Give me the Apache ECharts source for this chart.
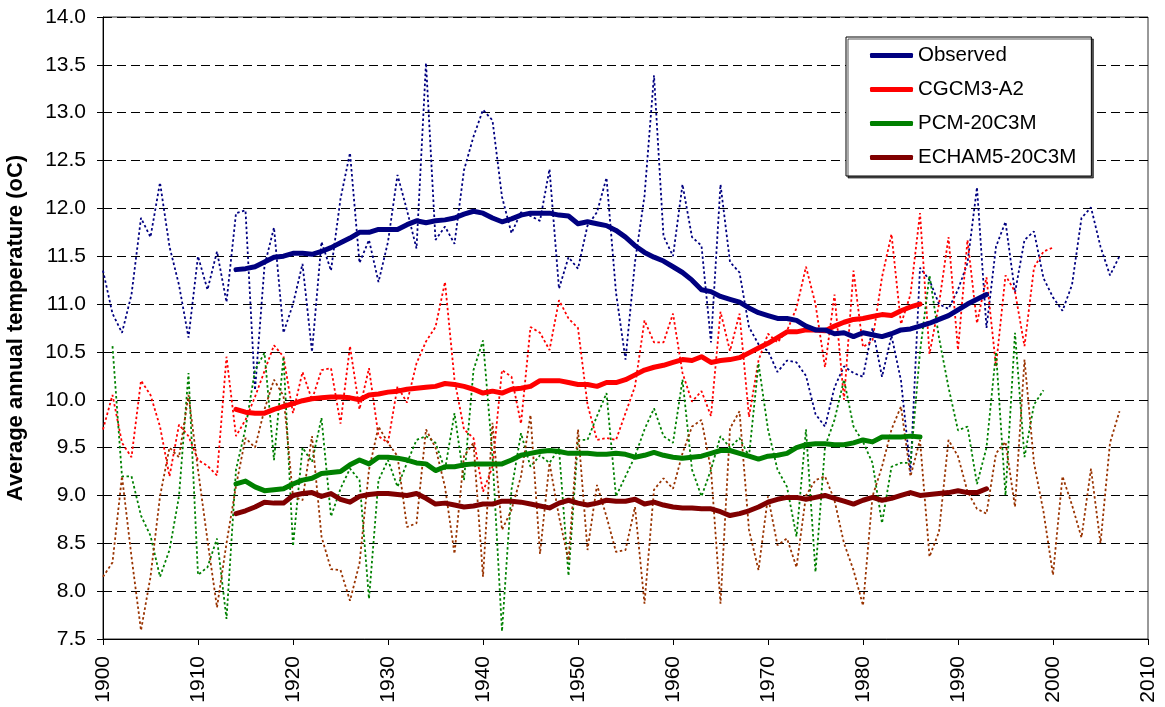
<!DOCTYPE html>
<html>
<head>
<meta charset="utf-8">
<title>Average annual temperature</title>
<script src="https://cdn.jsdelivr.net/npm/echarts@6/dist/echarts.min.js"></script>
<style>
html, body { margin: 0; padding: 0; background: #fff; }
#chart { width: 1165px; height: 707px; }
</style>
</head>
<body>
<div id="chart"></div>
<script>
"use strict";
// yearly values (dotted lines)
var observedStart = 1900;
var observed = [
    11.35, 10.9, 10.7, 11.1, 11.9, 11.7, 12.27, 11.6, 11.2, 10.65,
    11.5, 11.15, 11.55, 11.02, 11.95, 11.98, 10.1, 11.4, 11.8, 10.7,
    11.0, 11.42, 10.5, 11.65, 11.35, 12.1, 12.58, 11.43, 11.67, 11.23,
    11.65, 12.35, 11.98, 11.58, 13.52, 11.67, 11.81, 11.63, 12.4, 12.75,
    13.03, 12.92, 12.12, 11.74, 11.96, 11.92, 11.87, 12.41, 11.16, 11.49,
    11.37, 11.82, 11.96, 12.32, 11.12, 10.42, 11.44, 12.13, 13.39, 11.71,
    11.5, 12.25, 11.7, 11.61, 10.6, 12.25, 11.44, 11.33, 10.76, 10.58,
    10.51, 10.29, 10.41, 10.39, 10.25, 9.85, 9.72, 10.13, 10.35, 10.28,
    10.24, 10.75, 10.24, 10.67, 10.2, 9.25, 11.38, 11.25, 11.0, 10.95,
    11.15, 11.43, 12.22, 10.75, 11.6, 11.86, 11.12, 11.67, 11.76, 11.27,
    11.07, 10.93, 11.2, 11.9, 12.01, 11.6, 11.3, 11.5
];
var cgcmStart = 1900;
var cgcm = [
    9.69, 10.05, 9.55, 9.4, 10.2, 10.05, 9.72, 9.2, 9.74, 9.62,
    9.37, 9.31, 9.21, 10.45, 9.62, 9.79, 10.03, 10.3, 10.57, 10.45,
    9.86, 10.29, 10.0, 10.31, 10.33, 9.75, 10.56, 9.9, 10.33, 9.62,
    9.55, 10.14, 9.97, 10.38, 10.61, 10.76, 11.23, 10.21, 9.69, 9.6,
    9.04, 9.3, 10.31, 10.24, 9.75, 10.76, 10.7, 10.52, 11.04, 10.85,
    10.75, 9.95, 9.58, 9.6, 9.58, 9.86, 10.14, 10.83, 10.6, 10.6,
    10.9, 10.28, 9.98, 10.09, 9.83, 10.92, 10.51, 10.9, 9.82, 10.41,
    10.69, 10.6, 10.72, 10.96, 11.39, 11.0, 10.34, 11.1, 10.0, 11.35,
    10.55, 10.62, 11.28, 11.73, 10.79, 11.1, 11.95, 10.48, 11.0, 11.7,
    10.52, 11.67, 10.8, 11.28, 10.35, 11.3, 11.13, 10.56, 11.38, 11.55,
    11.59
];
var pcmStart = 1901;
var pcm = [
    10.56, 9.2, 9.2, 8.79, 8.58, 8.15, 8.43, 8.99, 10.28,
    8.17, 8.25, 8.55, 7.71, 9.27, 9.7, 10.31, 10.49, 9.37, 10.45,
    8.47, 9.5, 9.35, 9.81, 8.78, 9.07, 9.28, 9.16, 7.92, 9.16,
    9.37, 9.09, 9.34, 9.58, 9.62, 9.55, 9.27, 9.86, 9.16, 10.31,
    10.62, 9.41, 7.58, 9.06, 9.65, 9.3, 9.42, 9.34, 9.49, 8.16,
    9.58, 9.58, 9.83, 10.07, 8.99, 9.2, 9.41, 9.69, 9.91, 9.62,
    9.55, 10.21, 9.27, 8.99, 9.27, 9.62, 9.5, 9.6, 9.41, 10.38,
    9.69, 9.27, 9.09, 8.57, 9.69, 8.2, 9.51, 9.79, 10.21, 9.72,
    9.56, 9.34, 8.71, 9.3, 9.34, 9.34, 10.5, 11.3, 10.65, 10.13,
    9.68, 9.72, 9.12, 9.5, 10.5, 9.0, 10.7, 9.4, 9.95, 10.1
];
var echamStart = 1900;
var echam = [
    8.15, 8.3, 9.2, 8.36, 7.59, 8.15, 8.99, 9.5, 9.4, 10.05,
    9.27, 8.53, 7.83, 8.5, 9.1, 9.6, 9.5, 9.9, 10.21, 10.04,
    8.99, 8.95, 9.62, 8.57, 8.23, 8.22, 7.9, 8.29, 9.27, 9.72,
    9.55, 9.41, 8.67, 8.71, 9.69, 9.5, 9.09, 8.39, 9.41, 9.55,
    8.15, 9.76, 8.64, 8.85, 9.2, 9.84, 8.39, 9.34, 8.78, 8.32,
    9.69, 8.43, 9.11, 8.78, 8.41, 8.43, 8.88, 7.87, 9.06, 9.18,
    9.07, 9.44, 9.72, 9.79, 9.27, 7.87, 9.7, 9.88, 8.64, 8.22,
    8.99, 8.48, 8.55, 8.25, 9.0, 9.16, 9.2, 8.95, 8.5, 8.22,
    7.85, 8.99, 9.3, 9.69, 9.93, 9.2, 9.58, 8.36, 8.62, 9.58,
    9.41, 9.04, 8.86, 8.81, 9.44, 9.56, 8.88, 10.42, 9.34, 8.83,
    8.17, 9.2, 8.9, 8.56, 9.28, 8.5, 9.55, 9.88
];

// smoothed curves (thick lines)
var smoothStart = 1914;
var observedAvg = [
    11.36, 11.37, 11.39, 11.44, 11.49, 11.50, 11.53, 11.53, 11.52, 11.55,
    11.59, 11.64, 11.69, 11.75, 11.75, 11.78, 11.78, 11.78, 11.83, 11.87,
    11.85, 11.87, 11.88, 11.90, 11.94, 11.97, 11.95, 11.90, 11.86, 11.89,
    11.93, 11.95, 11.95, 11.95, 11.93, 11.92, 11.84, 11.86, 11.84, 11.82,
    11.77, 11.70, 11.61, 11.54, 11.49, 11.45, 11.39, 11.33, 11.25, 11.15,
    11.13, 11.08, 11.05, 11.02, 10.96, 10.91, 10.88, 10.85, 10.85, 10.83,
    10.77, 10.73, 10.73, 10.69, 10.70, 10.66, 10.70, 10.68, 10.66, 10.69,
    10.73, 10.74, 10.77, 10.80, 10.84, 10.88, 10.94, 11.00, 11.05, 11.10
];
var cgcmAvg = [
    9.90, 9.87, 9.86, 9.86, 9.90, 9.93, 9.96, 9.99, 10.01, 10.02,
    10.03, 10.03, 10.02, 10.00, 10.05, 10.06, 10.08, 10.09, 10.11, 10.12,
    10.13, 10.14, 10.17, 10.16, 10.14, 10.11, 10.07, 10.09, 10.07, 10.11,
    10.12, 10.14, 10.20, 10.20, 10.20, 10.18, 10.16, 10.16, 10.14, 10.18,
    10.18, 10.21, 10.26, 10.31, 10.34, 10.36, 10.39, 10.42, 10.41, 10.45,
    10.39, 10.41, 10.42, 10.44, 10.49, 10.54, 10.59, 10.65, 10.71, 10.71,
    10.73, 10.73, 10.72, 10.77, 10.81, 10.84, 10.85, 10.87, 10.89, 10.88,
    10.93, 10.97, 11.00
];
var pcmAvg = [
    9.12, 9.15, 9.09, 9.05, 9.06, 9.07, 9.12, 9.16, 9.18, 9.23,
    9.24, 9.25, 9.32, 9.37, 9.33, 9.40, 9.40, 9.39, 9.37, 9.34,
    9.33, 9.26, 9.30, 9.30, 9.32, 9.33, 9.33, 9.33, 9.33, 9.37,
    9.42, 9.44, 9.46, 9.47, 9.46, 9.44, 9.44, 9.44, 9.43, 9.43,
    9.44, 9.43, 9.40, 9.42, 9.45, 9.42, 9.40, 9.39, 9.40, 9.41,
    9.44, 9.47, 9.47, 9.44, 9.41, 9.38, 9.41, 9.42, 9.44, 9.50,
    9.53, 9.54, 9.54, 9.53, 9.53, 9.55, 9.58, 9.56, 9.61, 9.61,
    9.61, 9.62, 9.61
];
var echamAvg = [
    8.81, 8.84, 8.88, 8.93, 8.92, 8.92, 9.00, 9.02, 9.03, 8.99,
    9.02, 8.96, 8.93, 8.99, 9.01, 9.02, 9.02, 9.01, 9.00, 9.02,
    8.97, 8.91, 8.92, 8.90, 8.88, 8.89, 8.91, 8.91, 8.94, 8.94,
    8.93, 8.91, 8.89, 8.87, 8.92, 8.95, 8.92, 8.90, 8.92, 8.95,
    8.94, 8.94, 8.96, 8.91, 8.93, 8.90, 8.88, 8.87, 8.87, 8.86,
    8.86, 8.83, 8.79, 8.81, 8.84, 8.88, 8.93, 8.96, 8.98, 8.98,
    8.96, 8.98, 9.00, 8.97, 8.94, 8.91, 8.95, 8.98, 8.95, 8.97,
    9.00, 9.03, 9.00, 9.01, 9.02, 9.03, 9.05, 9.03, 9.03, 9.07
];

var legendNames = ["Observed", "CGCM3-A2", "PCM-20C3M", "ECHAM5-20C3M"];

function toPairs(start, values) {
    return values.map(function (v, i) {
        return [start + i, v];
    });
}

function dottedLine(name, start, values, color) {
    return {
        name: name,
        type: "line",
        data: toPairs(start, values),
        symbol: "none",
        silent: true,
        z: 2,
        lineStyle: { color: color, width: 1.8, type: [2.5, 2.5] },
        itemStyle: { color: color }
    };
}

function thickLine(name, start, values, color) {
    return {
        name: name,
        type: "line",
        data: toPairs(start, values),
        symbol: "none",
        z: 3,
        lineStyle: { color: color, width: 5, cap: "round", join: "round" },
        itemStyle: { color: color }
    };
}

var chart = echarts.init(document.getElementById("chart"), null, { renderer: "canvas" });

var option = {
    animation: false,
    backgroundColor: "#fff",
    textStyle: { fontFamily: "Liberation Sans" },
    grid: {
        left: 103, right: 17, top: 17, bottom: 68,
        outerBoundsMode: "none",
        show: true, borderColor: "#333", borderWidth: 1
    },
    legend: {
        data: legendNames,
        orient: "vertical",
        left: 846, top: 37,
        padding: [8, 15, 8, 24],
        itemWidth: 43, itemHeight: 5, itemGap: 13,
        icon: "roundRect",
        backgroundColor: "#fff",
        borderColor: "#000", borderWidth: 1,
        shadowColor: "rgba(0,0,0,0.65)", shadowOffsetX: 2, shadowOffsetY: 2, shadowBlur: 0,
        textStyle: { fontSize: 20.5, lineHeight: 20, color: "#000", fontFamily: "Liberation Sans" }
    },
    xAxis: {
        type: "value",
        min: 1900, max: 2010, interval: 10,
        axisLine: { lineStyle: { color: "#000", width: 1 } },
        axisTick: { length: 6, lineStyle: { color: "#000" } },
        splitLine: { show: false },
        axisLabel: {
            rotate: 90, margin: 17, fontSize: 21, color: "#000",
            formatter: function (v) { return String(v); }
        }
    },
    yAxis: {
        type: "value",
        min: 7.5, max: 14, interval: 0.5,
        name: "Average annual temperature (oC)",
        nameLocation: "middle",
        nameRotate: 90,
        nameGap: 76,
        nameTextStyle: { fontSize: 22, fontWeight: "bold", color: "#000" },
        axisLine: { show: true, lineStyle: { color: "#000", width: 1 } },
        axisTick: { show: true, length: 6, lineStyle: { color: "#000" } },
        splitLine: { show: true, lineStyle: { color: "#000", width: 1, type: [9, 5] } },
        axisLabel: {
            margin: 17, fontSize: 21, color: "#000",
            formatter: function (v) { return v.toFixed(1); }
        }
    },
    series: [
        dottedLine("Observed annual", observedStart, observed, "#000080"),
        dottedLine("CGCM3-A2 annual", cgcmStart, cgcm, "#ff0000"),
        dottedLine("PCM-20C3M annual", pcmStart, pcm, "#008000"),
        dottedLine("ECHAM5-20C3M annual", echamStart, echam, "#993300"),
        thickLine("ECHAM5-20C3M", smoothStart, echamAvg, "#800000"),
        thickLine("PCM-20C3M", smoothStart, pcmAvg, "#008000"),
        thickLine("CGCM3-A2", smoothStart, cgcmAvg, "#ff0000"),
        thickLine("Observed", smoothStart, observedAvg, "#000080")
    ]
};

chart.setOption(option);
</script>
</body>
</html>
